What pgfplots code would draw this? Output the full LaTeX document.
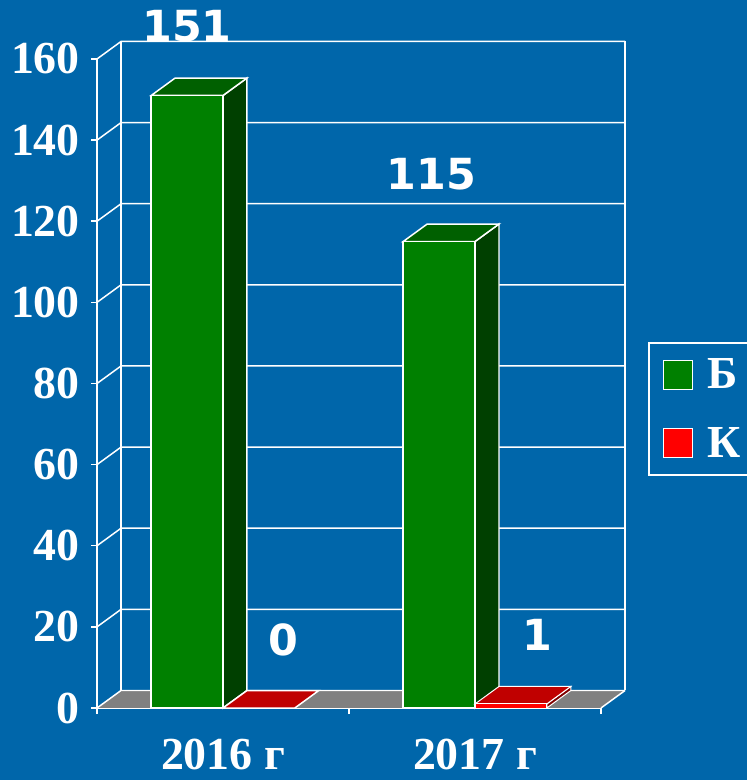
\documentclass[border=0pt]{standalone}
\usepackage{pgfplots}
\pgfplotsset{compat=1.18}
\usepackage{fontspec}
\setmainfont{Liberation Serif}
\newfontfamily\valfont{DejaVu Sans}
\definecolor{bg}{HTML}{0066AA}
\definecolor{gfront}{HTML}{008000}
\definecolor{gtop}{HTML}{006000}
\definecolor{gside}{HTML}{004000}
\definecolor{rfront}{HTML}{FF0000}
\definecolor{rtop}{HTML}{C00000}
\definecolor{rside}{HTML}{800000}
\definecolor{floor}{HTML}{808080}
\begin{document}
\begin{tikzpicture}[x=1bp,y=1bp]
\fill[bg] (0,0) rectangle (747,780);
\begin{axis}[
  at={(97bp,72bp)}, anchor=south west,
  scale only axis, width=504bp, height=649bp,
  xmin=0, xmax=2, ymin=0, ymax=160, clip=false,
  axis x line*=bottom, axis y line*=left,
  axis line style={white, line width=1.5pt, -},
  tick style={white, line width=1.5pt},
  tick align=outside, major tick length=6bp,
  ytick={0,20,40,60,80,100,120,140,160},
  xtick={0,1,2}, xticklabels={,,},
  extra x ticks={0.5,1.5},
  extra x tick labels={2016 г,2017 г},
  extra x tick style={major tick length=0pt},
  /pgf/number format/assume math mode=true,
  ticklabel style={font=\fontsize{46}{46}\selectfont\bfseries, text=white, inner sep=0pt},
  yticklabel style={xshift=-11bp},
  xticklabel style={yshift=-31bp},
  legend image code/.code={\draw[#1, draw=white, line width=1pt] (0bp,-14.5bp) rectangle (29bp,14.5bp); \path[draw=none, fill=none] (0bp,0bp) -- (42bp,0bp);},
  legend style={at={(axis cs:2.187,90.2)}, anchor=north west, draw=white, line width=1.5pt, fill=none,
     font=\fontsize{46}{46}\selectfont\bfseries, text=white, inner xsep=14bp, inner ysep=14bp,
     row sep=33bp, cells={anchor=west}},
]
% floor
\fill[floor] (axis cs:0,0) -- (axis cs:2,0) -- ++(24bp,17.5bp) -- ++(-504bp,0pt) -- cycle;
% grid and walls
\pgfplotsinvokeforeach{0,20,40,60,80,100,120,140,160}{
  \draw[white, line width=1.5pt] (axis cs:0,#1) -- ++(24bp,17.5bp) -- ++(504bp,0pt);
}
\draw[white, line width=1.5pt] (axis cs:0,0) ++(24bp,17.5bp) -- ++(0pt,649bp);
\draw[white, line width=1.5pt] (axis cs:2,0) ++(24bp,17.5bp) -- ++(0pt,649bp);
\draw[white, line width=1.5pt] (axis cs:2,0) -- ++(24bp,17.5bp);
% 2016 B = 151
\addplot[forget plot, fill=gside, draw=white, line width=1.5pt] coordinates {(0.5,0) (0.5952,4.31) (0.5952,155.31) (0.5,151)} -- cycle;
\addplot[forget plot, fill=gtop, draw=white, line width=1.5pt] coordinates {(0.215,151) (0.5,151) (0.5952,155.31) (0.3102,155.31)} -- cycle;
\addplot[forget plot, fill=gfront, draw=white, line width=1.5pt] coordinates {(0.215,0) (0.5,0) (0.5,151) (0.215,151)} -- cycle;
% 2016 K = 0
\addplot[forget plot, fill=rtop, draw=white, line width=1.5pt] coordinates {(0.5,0) (0.785,0) (0.8802,4.31) (0.5952,4.31)} -- cycle;
% 2017 B = 115
\addplot[forget plot, fill=gside, draw=white, line width=1.5pt] coordinates {(1.5,0) (1.5952,4.31) (1.5952,119.31) (1.5,115)} -- cycle;
\addplot[forget plot, fill=gtop, draw=white, line width=1.5pt] coordinates {(1.215,115) (1.5,115) (1.5952,119.31) (1.3102,119.31)} -- cycle;
\addplot[forget plot, fill=gfront, draw=white, line width=1.5pt] coordinates {(1.215,0) (1.5,0) (1.5,115) (1.215,115)} -- cycle;
% 2017 K = 1
\addplot[forget plot, fill=rside, draw=white, line width=1pt] coordinates {(1.785,0) (1.8802,4.31) (1.8802,5.31) (1.785,1)} -- cycle;
\addplot[forget plot, fill=rtop, draw=white, line width=1pt] coordinates {(1.5,1) (1.785,1) (1.8802,5.31) (1.5952,5.31)} -- cycle;
\addplot[forget plot, fill=rfront, draw=white, line width=1pt] coordinates {(1.5,0) (1.785,0) (1.785,1) (1.5,1)} -- cycle;
% value labels
\node[font=\valfont\bfseries\fontsize{43}{43}\selectfont, text=white, inner sep=0pt] at (axis cs:0.357,168) {151};
\node[font=\valfont\bfseries\fontsize{43}{43}\selectfont, text=white, inner sep=0pt] at (axis cs:0.738,16.9) {0};
\node[font=\valfont\bfseries\fontsize{43}{43}\selectfont, text=white, inner sep=0pt] at (axis cs:1.327,131.5) {115};
\node[font=\valfont\bfseries\fontsize{43}{43}\selectfont, text=white, inner sep=0pt] at (axis cs:1.746,18) {1};
\addlegendimage{fill=gfront}
\addlegendentry{Б\hspace{26bp}\null}
\addlegendimage{fill=rfront}
\addlegendentry{К\hspace{26bp}\null}
\end{axis}
\pgfresetboundingbox
\useasboundingbox (0,0) rectangle (747,780);
\end{tikzpicture}
\end{document}
